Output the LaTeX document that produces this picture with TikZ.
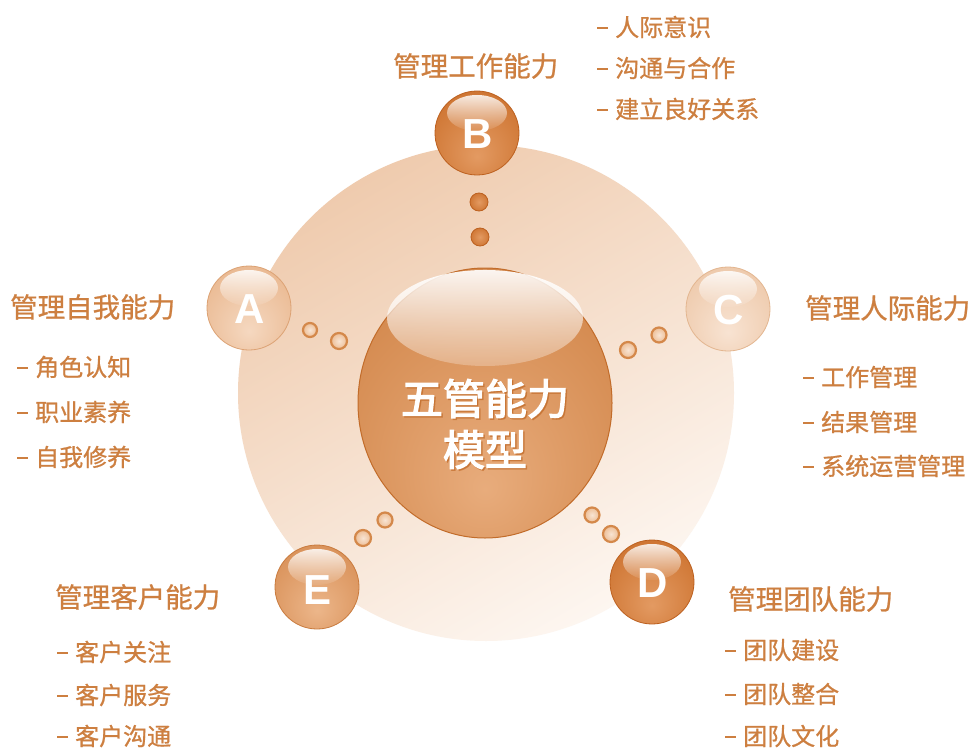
\documentclass[tikz,border=0pt]{standalone}
\usepackage{fontspec}
\newfontfamily\cjk[FakeBold=0.8]{Noto Sans CJK SC}
\newfontfamily\cjkb[FakeBold=3]{Noto Sans CJK SC}
\newfontfamily\letterfont{Liberation Sans}
\usetikzlibrary{fadings,shapes.geometric}
\definecolor{txt}{HTML}{CD7F40}
\definecolor{bgA}{HTML}{EFCBAE}
\definecolor{bgB}{HTML}{FDF6F0}
% sphere colours: glow, body, rim
\definecolor{gD}{HTML}{E39A62}\definecolor{bD}{HTML}{D07836}\definecolor{rD}{HTML}{BC601F}
\definecolor{gE}{HTML}{ECB68A}\definecolor{bE}{HTML}{DB955E}\definecolor{rE}{HTML}{C97B3E}
\definecolor{gA}{HTML}{F5D8C0}\definecolor{bA}{HTML}{EBBC96}\definecolor{rA}{HTML}{DCA274}
\definecolor{gC}{HTML}{F8E3D2}\definecolor{bC}{HTML}{EFCCAF}\definecolor{rC}{HTML}{E3B690}
\definecolor{gM}{HTML}{E8AC7C}\definecolor{bM}{HTML}{D68D53}\definecolor{rM}{HTML}{C26C2A}
\definecolor{ringc}{HTML}{D4884A}
\definecolor{dotin}{HTML}{F8E4D3}
\definecolor{dotout}{HTML}{EDBE96}
\pgfdeclareradialshading{sphD}{\pgfpoint{0bp}{-14bp}}{color(0bp)=(gD); color(30bp)=(bD); color(54bp)=(rD); color(70bp)=(rD)}
\pgfdeclareradialshading{sphE}{\pgfpoint{0bp}{-14bp}}{color(0bp)=(gE); color(30bp)=(bE); color(54bp)=(rE); color(70bp)=(rE)}
\pgfdeclareradialshading{sphA}{\pgfpoint{0bp}{-14bp}}{color(0bp)=(gA); color(30bp)=(bA); color(54bp)=(rA); color(70bp)=(rA)}
\pgfdeclareradialshading{sphC}{\pgfpoint{0bp}{-14bp}}{color(0bp)=(gC); color(30bp)=(bC); color(54bp)=(rC); color(70bp)=(rC)}
\pgfdeclareradialshading{sphM}{\pgfpoint{0bp}{-16bp}}{color(0bp)=(gM); color(30bp)=(bM); color(56bp)=(rM); color(72bp)=(rM)}
\tikzfading[name=glossfade, top color=transparent!15, bottom color=transparent!95]
\tikzfading[name=glossfadeM, top color=transparent!8, bottom color=transparent!75]
\newcommand\dsh{\rule[7pt]{11pt}{2.4pt}\hspace{7pt}}
\begin{document}
\begin{tikzpicture}[x=1pt,y=-1pt,
  ttl/.style={anchor=west, text=txt, inner sep=0pt, font=\cjk\fontsize{27.5}{32}\selectfont},
  itm/.style={anchor=west, text=txt, inner sep=0pt, font=\cjk\fontsize{24}{28}\selectfont},
  ball/.style={circle, inner sep=0pt, minimum size=84pt, shade, line width=0.8pt},
  letter/.style={text=white, inner sep=0pt, font=\letterfont\bfseries\fontsize{42}{42}\selectfont},
  gloss/.style={fill=white, path fading=glossfade},
  ringdot/.style={circle, inner sep=0pt, draw=ringc, line width=2.2pt, inner color=dotin, outer color=dotout},
  fulldot/.style={circle, inner sep=0pt, draw=rD, line width=0.8pt, inner color=gD, outer color=bD, minimum size=18pt}]
\useasboundingbox (0,0) rectangle (969,749);
\fill[white] (0,0) rectangle (969,749);
% background disc
\shade[top color=bgA, bottom color=bgB, shading angle=30] (486,393) circle[radius=248pt];

% connecting dots
\node[fulldot] (dB1) at (479,202) {};
\node[fulldot] (dB2) at (480,237) {};
\node[ringdot, minimum size=14pt] (dA1) at (310,330) {};
\node[ringdot, minimum size=16pt] (dA2) at (339,341) {};
\node[ringdot, minimum size=16pt] (dC1) at (628,350) {};
\node[ringdot, minimum size=15pt] (dC2) at (659,335) {};
\node[ringdot, minimum size=15pt] (dD1) at (592,515) {};
\node[ringdot, minimum size=16pt] (dD2) at (611,534) {};
\node[ringdot, minimum size=15pt] (dE1) at (385,520) {};
\node[ringdot, minimum size=16pt] (dE2) at (363,538) {};

% central sphere
\node[ellipse, minimum width=254pt, minimum height=270pt, inner sep=0pt, shade, shading=sphM, draw=rM, line width=1pt] (core) at (485,403) {};
\fill[white, path fading=glossfadeM] (485,318) ellipse[x radius=98pt, y radius=48pt];
\node[align=center, text=rM, opacity=0.6, font=\cjkb\fontsize{42}{51}\selectfont] (coreshadow) at (486.5,425.5) {五管能力\\模型};
\node[align=center, text=white, font=\cjkb\fontsize{42}{51}\selectfont] (coretext) at (485,424) {五管能力\\模型};

% satellite spheres
\node[ball, shading=sphD, draw=rD] (B) at (477,133) {};
\fill[gloss] (477,113) ellipse[x radius=30pt, y radius=18pt];
\node[letter] (LB) at (478,134) {B};

\node[ball, shading=sphA, draw=rA] (A) at (249,308) {};
\fill[gloss] (249,288) ellipse[x radius=29pt, y radius=18pt];
\node[letter] (LA) at (250,309) {A};

\node[ball, shading=sphC, draw=rC] (C) at (728,309) {};
\fill[gloss] (728,289) ellipse[x radius=29pt, y radius=18pt];
\node[letter] (LC) at (729,310) {C};

\node[ball, shading=sphD, draw=rD] (D) at (652,582) {};
\fill[gloss] (652,562) ellipse[x radius=29pt, y radius=18pt];
\node[letter] (LD) at (653,583) {D};

\node[ball, shading=sphE, draw=rE] (E) at (317,587) {};
\fill[gloss] (317,567) ellipse[x radius=29pt, y radius=18pt];
\node[letter] (LE) at (318,590) {E};

% B texts
\node[ttl] (tB) at (393,66) {管理工作能力};
\node[itm] (lB1) at (597,27) {\dsh 人际意识};
\node[itm] (lB2) at (597,68) {\dsh 沟通与合作};
\node[itm] (lB3) at (597,109) {\dsh 建立良好关系};
% A texts
\node[ttl] (tA) at (10,307) {管理自我能力};
\node[itm] (lA1) at (17,367) {\dsh 角色认知};
\node[itm] (lA2) at (17,412) {\dsh 职业素养};
\node[itm] (lA3) at (17,457) {\dsh 自我修养};
% C texts
\node[ttl] (tC) at (805,308) {管理人际能力};
\node[itm] (lC1) at (803,377) {\dsh 工作管理};
\node[itm] (lC2) at (803,422) {\dsh 结果管理};
\node[itm] (lC3) at (803,466) {\dsh 系统运营管理};
% D texts
\node[ttl] (tD) at (728,599) {管理团队能力};
\node[itm] (lD1) at (725,650) {\dsh 团队建设};
\node[itm] (lD2) at (725,694) {\dsh 团队整合};
\node[itm] (lD3) at (725,736) {\dsh 团队文化};
% E texts
\node[ttl] (tE) at (55,597) {管理客户能力};
\node[itm] (lE1) at (57,652) {\dsh 客户关注};
\node[itm] (lE2) at (57,695) {\dsh 客户服务};
\node[itm] (lE3) at (57,736) {\dsh 客户沟通};
\end{tikzpicture}
\end{document}
